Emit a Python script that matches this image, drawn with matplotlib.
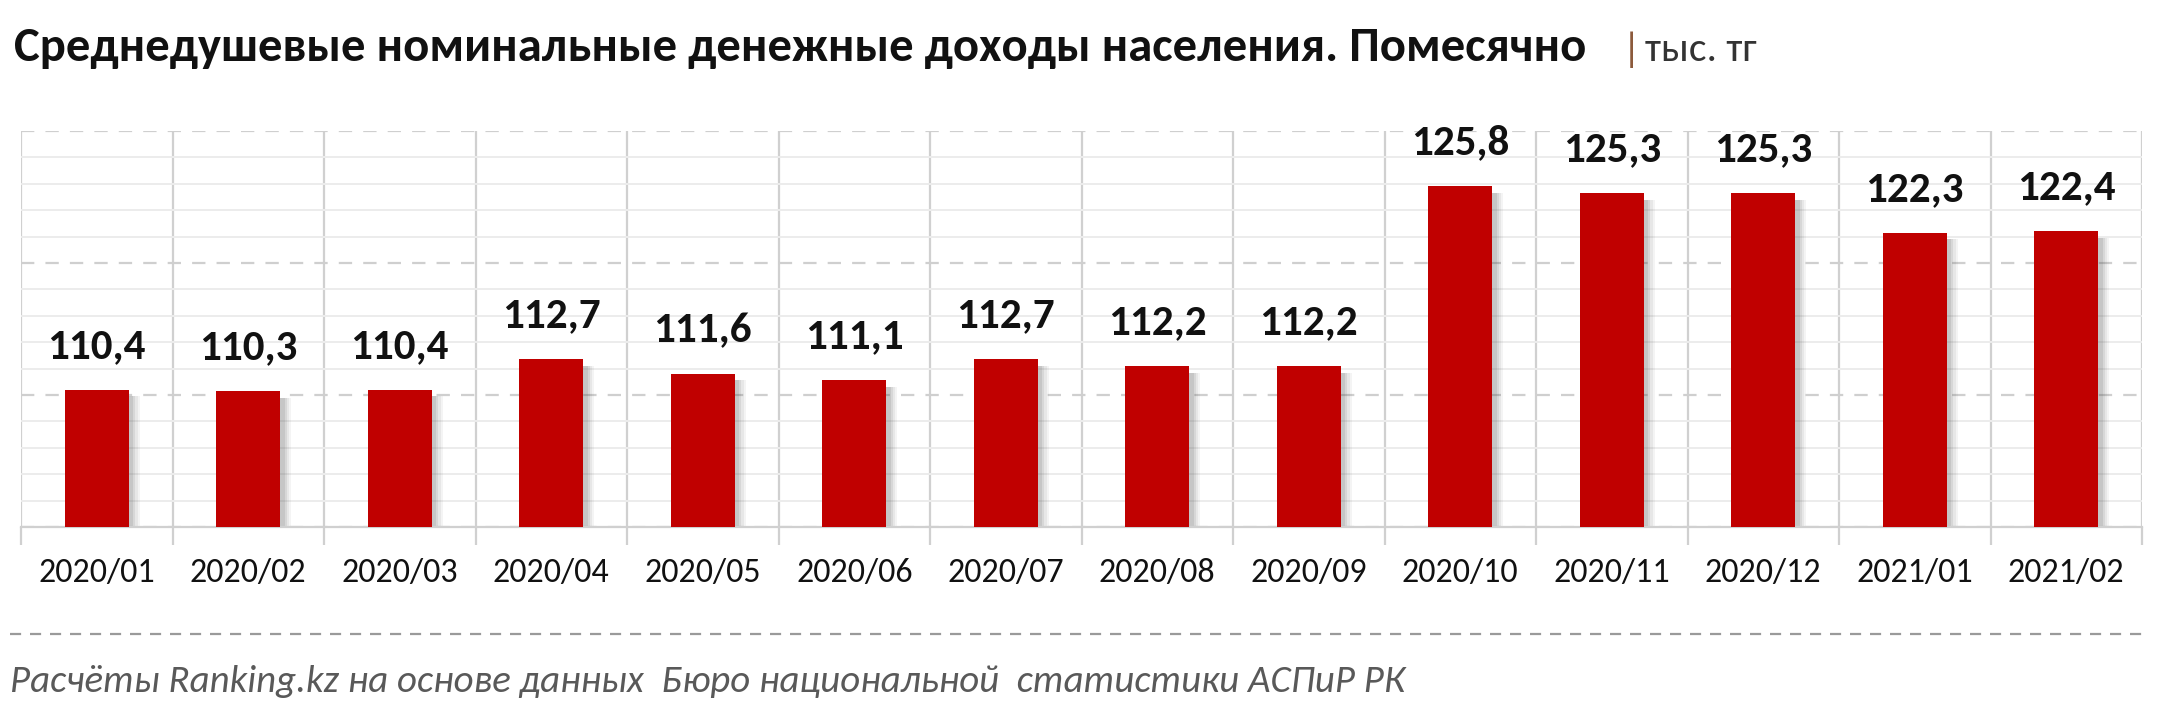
import matplotlib.pyplot as plt
import numpy as np
from matplotlib.ticker import MultipleLocator, FixedLocator

months = ["2020/01", "2020/02", "2020/03", "2020/04", "2020/05", "2020/06", "2020/07",
          "2020/08", "2020/09", "2020/10", "2020/11", "2020/12", "2021/01", "2021/02"]
income = [110.4, 110.3, 110.4, 112.7, 111.6, 111.1, 112.7,
          112.2, 112.2, 125.8, 125.3, 125.3, 122.3, 122.4]

W, H = 2160, 718
plt.rcParams["font.family"] = ["Carlito", "Open Sans", "DejaVu Sans"]

fig = plt.figure(figsize=(W / 100, H / 100), dpi=100)
ax = fig.add_axes([21 / W, 1 - 527 / H, (2142 - 21) / W, (527 - 131) / H])

x = np.arange(len(months))
bar_w = 0.42
vals = np.array(income)

# soft shadow on the right of each bar
for dx, a in [(0.075, 0.06), (0.06, 0.08), (0.045, 0.1), (0.03, 0.12)]:
    ax.bar(x + dx, vals - 100 - 0.5, bottom=100, width=bar_w,
           color="#505050", alpha=a, zorder=2, linewidth=0)
ax.bar(x, vals - 100, bottom=100, width=bar_w, color="#C00000", zorder=3, linewidth=0)

for xi, v in zip(x, income):
    ax.annotate(f"{v:.1f}".replace(".", ","), (xi, v), xytext=(0, 23), textcoords="offset points",
                ha="center", va="baseline", fontsize=31, fontweight="bold", color="#111111")

ax.set_xlim(-0.5, len(months) - 0.5)
ax.set_ylim(100, 130)

# horizontal grid: dashed majors, faint minors
ax.yaxis.set_major_locator(MultipleLocator(10))
ax.yaxis.set_minor_locator(MultipleLocator(2))
ax.grid(axis="y", which="major", color="#cfcfcf", linestyle=(0, (6, 5)), linewidth=1.6, zorder=0)
ax.grid(axis="y", which="minor", color="#ececec", linestyle="-", linewidth=1.4, zorder=0)
ax.tick_params(axis="y", which="both", left=False, labelleft=False)

# vertical separators between categories
ax.xaxis.set_minor_locator(FixedLocator(np.arange(-0.5, len(months), 1.0)))
ax.grid(axis="x", which="minor", color="#d0d0d0", linestyle="-", linewidth=1.6, zorder=1)
ax.tick_params(axis="x", which="minor", length=13, width=1.6, color="#d0d0d0")
ax.tick_params(axis="x", which="major", length=0, pad=22, labelsize=24.5, labelcolor="#111111")
ax.set_xticks(x)
ax.set_xticklabels(months)

for s in ["top", "left", "right"]:
    ax.spines[s].set_visible(False)
ax.spines["bottom"].set_color("#d0d0d0")
ax.spines["bottom"].set_linewidth(1.6)

fig.text(14 / W, 1 - 48 / H, "Среднедушевые номинальные денежные доходы населения. Помесячно",
         fontsize=35, fontweight="bold", va="center", ha="left", color="#111111")
fig.text(1622 / W, 1 - 50 / H, "|", fontsize=30, va="center", ha="left", color="#8c5a3c")
fig.text(1645 / W, 1 - 50 / H, "тыс. тг", fontsize=30, va="center", ha="left", color="#333333")

fig.add_artist(plt.Line2D([10 / W, 2150 / W], [1 - 634 / H, 1 - 634 / H], color="#9a9a9a",
                          linestyle=(0, (5, 4)), linewidth=1.6))
fig.text(10 / W, 1 - 682 / H, "Расчёты Ranking.kz на основе данных  Бюро национальной  статистики АСПиР РК",
         fontsize=28, fontstyle="italic", va="center", ha="left", color="#595959")

fig.savefig("out.png", dpi=100)
